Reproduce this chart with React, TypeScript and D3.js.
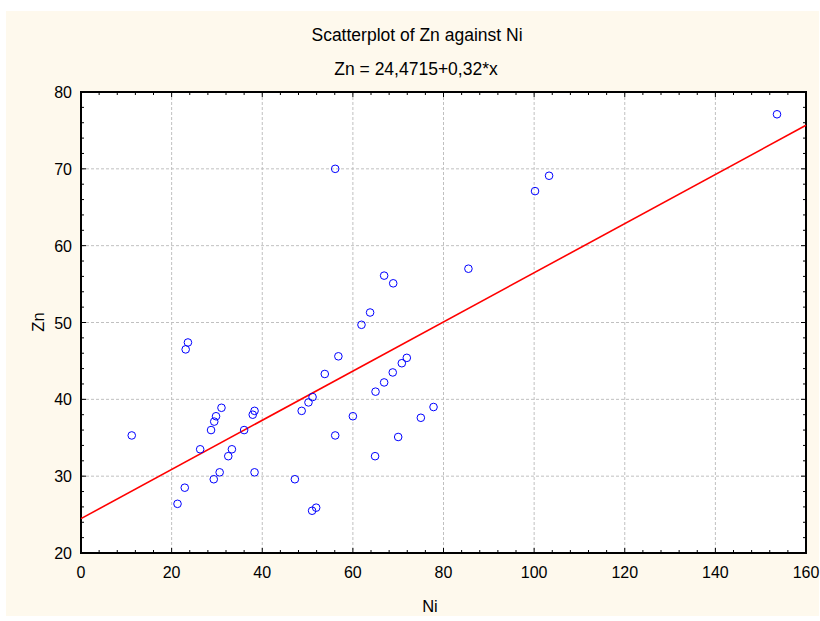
import React, { useEffect, useRef } from "react";
import * as d3 from "d3";

const niValues = [11.2, 21.3, 22.9, 23.1, 23.6, 26.3, 28.7, 29.4, 29.8, 31.0, 29.3, 30.6, 32.5, 33.3, 36.0, 37.9, 38.3, 38.3, 47.2, 48.7, 50.2, 51.1, 51.0, 51.9, 53.8, 56.1, 56.1, 56.8, 60.0, 61.9, 63.8, 64.9, 65.0, 66.9, 66.9, 68.9, 68.8, 70.0, 70.8, 71.9, 75.0, 77.8, 85.5, 100.2, 103.3, 153.6];
const znValues = [35.3, 26.4, 28.5, 46.5, 47.4, 33.5, 36.0, 37.1, 37.8, 38.9, 29.6, 30.5, 32.6, 33.5, 36.0, 38.0, 38.5, 30.5, 29.6, 38.5, 39.6, 40.3, 25.5, 25.9, 43.3, 70.0, 35.3, 45.6, 37.8, 49.7, 51.3, 32.6, 41.0, 42.2, 56.1, 55.1, 43.5, 35.1, 44.7, 45.4, 37.6, 39.0, 57.0, 67.1, 69.1, 77.1];
const xTicks = [0, 20, 40, 60, 80, 100, 120, 140, 160];
const yTicks = [20, 30, 40, 50, 60, 70, 80];
const intercept = 24.4715;
const slope = 0.32;
const title = "Scatterplot of Zn against Ni";
const subtitle = "Zn = 24,4715+0,32*x";
const xLabel = "Ni";
const yLabel = "Zn";

export default function App() {
  const ref = useRef<SVGSVGElement>(null);
  useEffect(() => {
    const svg = d3.select(ref.current);
    svg.selectAll("*").remove();
    const W = 820, H = 621;
    const L = 81, R = 806, T = 92, B = 553;
    const font = "'Liberation Sans', Arial, sans-serif";
    const x = d3.scaleLinear().domain([0, 160]).range([L, R]);
    const y = d3.scaleLinear().domain([20, 80]).range([B, T]);

    svg.append("rect").attr("x", 0).attr("y", 0).attr("width", W).attr("height", H).attr("fill", "#ffffff");
    svg.append("rect").attr("x", 6).attr("y", 11).attr("width", 813).attr("height", 605).attr("fill", "#fef9ed");
    svg.append("rect").attr("x", L).attr("y", T).attr("width", R - L).attr("height", B - T).attr("fill", "#ffffff");

    // grid
    const g = svg.append("g");
    xTicks.slice(1, -1).forEach((t) => {
      g.append("line").attr("x1", x(t)).attr("x2", x(t)).attr("y1", T).attr("y2", B)
        .attr("stroke", "#c0c0c0").attr("stroke-width", 1).attr("stroke-dasharray", "3,2");
    });
    yTicks.slice(1, -1).forEach((t) => {
      g.append("line").attr("x1", L).attr("x2", R).attr("y1", y(t)).attr("y2", y(t))
        .attr("stroke", "#c0c0c0").attr("stroke-width", 1).attr("stroke-dasharray", "3,2");
    });

    // minor/major ticks (inward) on all four sides
    const minorX = d3.range(0, 160.001, 4);
    const minorY = d3.range(20, 80.001, 2);
    minorX.forEach((t) => {
      const major = t % 20 === 0;
      const len = major ? 5 : 3;
      svg.append("line").attr("x1", x(t)).attr("x2", x(t)).attr("y1", B).attr("y2", B - len).attr("stroke", "#000");
      svg.append("line").attr("x1", x(t)).attr("x2", x(t)).attr("y1", T).attr("y2", T + len).attr("stroke", "#000");
    });
    minorY.forEach((t) => {
      const major = t % 10 === 0;
      const len = major ? 5 : 3;
      svg.append("line").attr("x1", L).attr("x2", L + len).attr("y1", y(t)).attr("y2", y(t)).attr("stroke", "#000");
      svg.append("line").attr("x1", R).attr("x2", R - len).attr("y1", y(t)).attr("y2", y(t)).attr("stroke", "#000");
    });

    // frame
    svg.append("rect").attr("x", L).attr("y", T).attr("width", R - L).attr("height", B - T)
      .attr("fill", "none").attr("stroke", "#000").attr("stroke-width", 2);

    // regression line
    const line = d3.line<number>().x((d) => x(d)).y((d) => y(intercept + slope * d));
    svg.append("path").datum([0, 160]).attr("d", line).attr("stroke", "#ff0000").attr("stroke-width", 1.6).attr("fill", "none");

    // points
    svg.append("g").selectAll("circle").data(niValues.map((v, i) => [v, znValues[i]]))
      .join("circle").attr("cx", (d) => x(d[0])).attr("cy", (d) => y(d[1])).attr("r", 3.8)
      .attr("fill", "none").attr("stroke", "#0000ff").attr("stroke-width", 1);

    // tick labels
    xTicks.forEach((t) => {
      svg.append("text").attr("x", x(t)).attr("y", 578).attr("text-anchor", "middle")
        .attr("font-family", font).attr("font-size", 16).attr("fill", "#000").text(String(t));
    });
    yTicks.forEach((t) => {
      svg.append("text").attr("x", 72).attr("y", y(t) + 6).attr("text-anchor", "end")
        .attr("font-family", font).attr("font-size", 16).attr("fill", "#000").text(String(t));
    });

    svg.append("text").attr("x", 417).attr("y", 41).attr("text-anchor", "middle")
      .attr("font-family", font).attr("font-size", 17.5).text(title);
    svg.append("text").attr("x", 416).attr("y", 75).attr("text-anchor", "middle")
      .attr("font-family", font).attr("font-size", 17.5).text(subtitle);
    svg.append("text").attr("x", 430).attr("y", 612).attr("text-anchor", "middle")
      .attr("font-family", font).attr("font-size", 16.5).text(xLabel);
    svg.append("text").attr("transform", "translate(44,322) rotate(-90)").attr("text-anchor", "middle")
      .attr("font-family", font).attr("font-size", 16.5).text(yLabel);
  }, []);
  return (
    <svg ref={ref} width={820} height={621} style={{ position: "absolute", left: 0, top: 0, display: "block" }} />
  );
}
